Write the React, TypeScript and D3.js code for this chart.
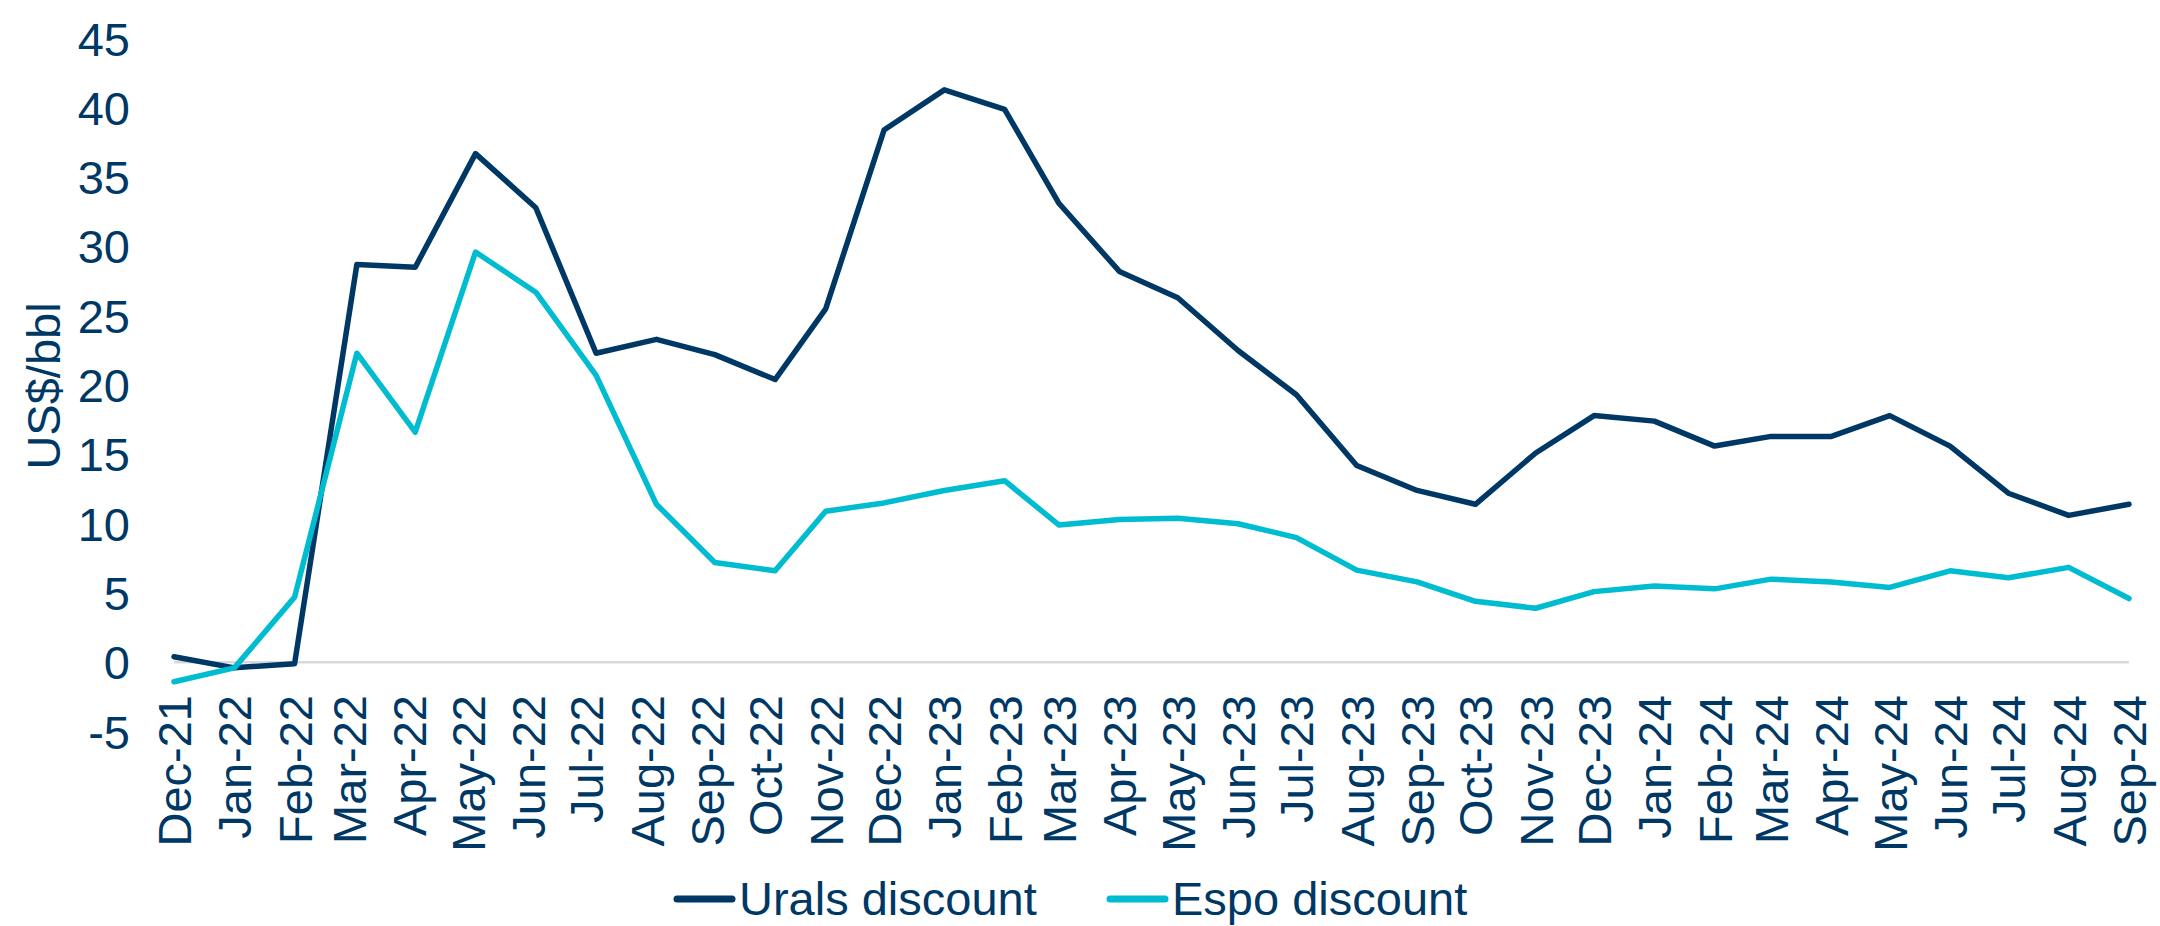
import * as d3 from "d3";
import { useEffect } from "react";

// Monthly discounts (US$/bbl); dates come from the source sheet
const pointDates = [
  "2021-12-01", "2022-01-01", "2022-02-01", "2022-03-05", "2022-04-04",
  "2022-05-05", "2022-06-05", "2022-07-06", "2022-08-06", "2022-09-05",
  "2022-10-06", "2022-11-01", "2022-12-01", "2023-01-01", "2023-02-01",
  "2023-03-01", "2023-04-01", "2023-05-01", "2023-06-01", "2023-07-01",
  "2023-08-01", "2023-09-01", "2023-10-01", "2023-11-01", "2023-12-01",
  "2024-01-01", "2024-02-01", "2024-03-01", "2024-04-01", "2024-05-01",
  "2024-06-01", "2024-07-01", "2024-08-01", "2024-09-01",
];

const uralsDiscount = [
  0.4, -0.4, -0.1, 28.7, 28.5, 36.7, 32.8, 22.3, 23.3, 22.2, 20.4, 25.5, 38.4,
  41.3, 39.9, 33.1, 28.2, 26.3, 22.5, 19.3, 14.2, 12.4, 11.4, 15.1, 17.8,
  17.4, 15.6, 16.3, 16.3, 17.8, 15.6, 12.2, 10.6, 11.4,
];

const espoDiscount = [
  -1.4, -0.4, 4.7, 22.3, 16.6, 29.6, 26.7, 20.7, 11.4, 7.2, 6.6, 10.9, 11.5,
  12.4, 13.1, 9.9, 10.3, 10.4, 10.0, 9.0, 6.65, 5.8, 4.4, 3.9, 5.1,
  5.5, 5.3, 6.0, 5.8, 5.4, 6.6, 6.1, 6.85, 4.6,
];

const monthLabels = [
  "Dec-21", "Jan-22", "Feb-22", "Mar-22", "Apr-22", "May-22", "Jun-22",
  "Jul-22", "Aug-22", "Sep-22", "Oct-22", "Nov-22", "Dec-22", "Jan-23",
  "Feb-23", "Mar-23", "Apr-23", "May-23", "Jun-23", "Jul-23", "Aug-23",
  "Sep-23", "Oct-23", "Nov-23", "Dec-23", "Jan-24", "Feb-24", "Mar-24",
  "Apr-24", "May-24", "Jun-24", "Jul-24", "Aug-24", "Sep-24",
];

const yTicks = [-5, 0, 5, 10, 15, 20, 25, 30, 35, 40, 45];

const NAVY = "#003865";
const CYAN = "#00BCD0";
const FONT = "'Liberation Sans', Arial, sans-serif";

export default function App() {
  useEffect(() => {
    document.body.style.margin = "0";
  }, []);

  const width = 2160;
  const height = 926;

  const parseDay = d3.utcParse("%Y-%m-%d");
  const parseMonth = d3.utcParse("%b-%y");
  const dates = pointDates.map((d) => parseDay(d) as Date);
  const tickDates = monthLabels.map((m) => parseMonth(m) as Date);

  const x = d3
    .scaleUtc()
    .domain([tickDates[0], tickDates[tickDates.length - 1]])
    .range([174, 2129]);
  const y = d3.scaleLinear().domain([-5, 45]).range([731.6, 38.6]);

  const line = d3
    .line<number>()
    .x((_, i) => x(dates[i]))
    .y((d) => y(d));

  const series = [
    { name: "Urals discount", values: uralsDiscount, color: NAVY },
    { name: "Espo discount", values: espoDiscount, color: CYAN },
  ];

  const legendX = [677, 1110];

  return (
    <svg
      width={width}
      height={height}
      style={{ display: "block", background: "#fff" }}
      fontFamily={FONT}
    >
      {/* zero line */}
      <line
        x1={x(tickDates[0])}
        x2={x(tickDates[tickDates.length - 1])}
        y1={y(0)}
        y2={y(0)}
        stroke="#D9D9D9"
        strokeWidth={2.5}
      />

      {/* y axis labels */}
      {yTicks.map((t) => (
        <text
          key={t}
          x={130}
          y={y(t)}
          dy="0.36em"
          textAnchor="end"
          fontSize={47}
          fill={NAVY}
        >
          {t}
        </text>
      ))}

      <text
        transform={`translate(60,386) rotate(-90)`}
        textAnchor="middle"
        fontSize={47}
        fill={NAVY}
      >
        US$/bbl
      </text>

      {/* x axis labels */}
      {monthLabels.map((m, i) => (
        <text
          key={m}
          transform={`translate(${x(tickDates[i])},695) rotate(-90)`}
          dy="0.36em"
          textAnchor="end"
          fontSize={47}
          fill={NAVY}
        >
          {m}
        </text>
      ))}

      {series.map((s) => (
        <path
          key={s.name}
          d={line(s.values) ?? ""}
          fill="none"
          stroke={s.color}
          strokeWidth={5.5}
          strokeLinejoin="round"
          strokeLinecap="round"
        />
      ))}

      {/* legend */}
      {series.map((s, i) => (
        <g key={s.name} transform={`translate(${legendX[i]},899)`}>
          <line
            x1={0}
            x2={55}
            y1={0}
            y2={0}
            stroke={s.color}
            strokeWidth={7}
            strokeLinecap="round"
          />
          <text x={62} y={16} fontSize={47} fill={NAVY}>
            {s.name}
          </text>
        </g>
      ))}
    </svg>
  );
}
